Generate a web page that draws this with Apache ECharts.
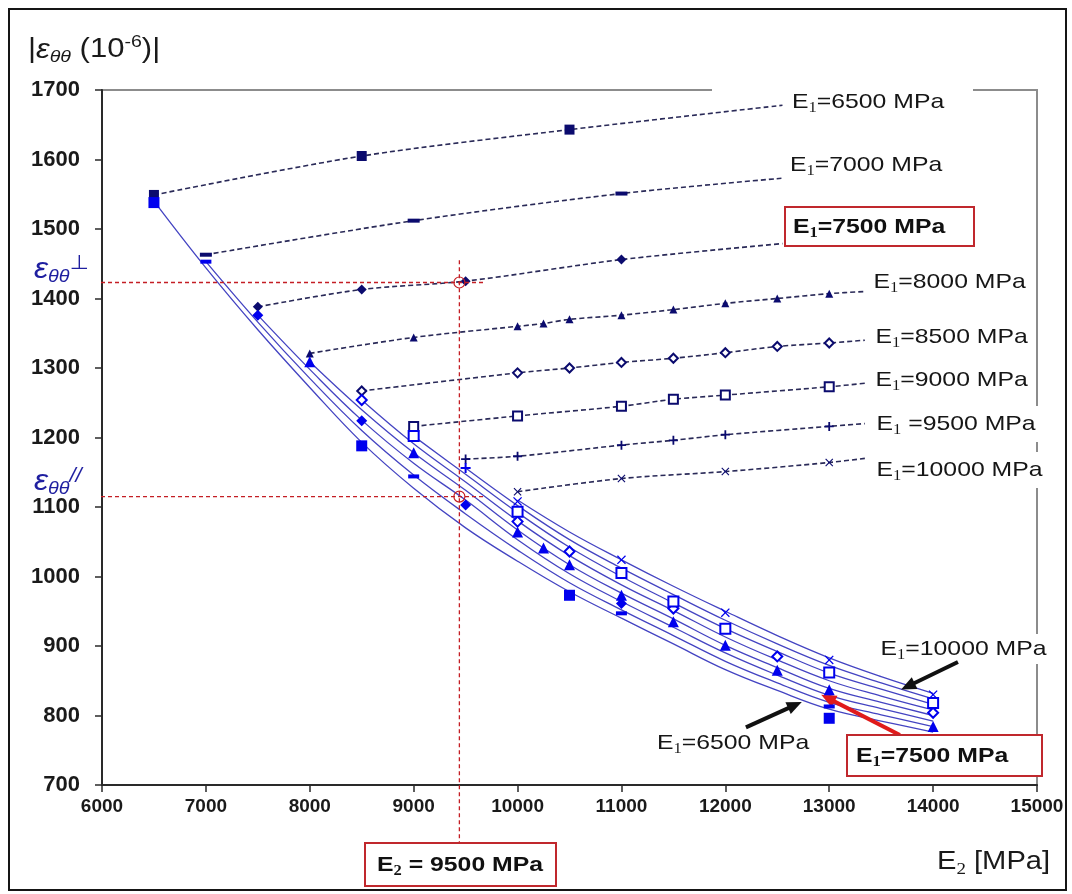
<!DOCTYPE html>
<html><head><meta charset="utf-8">
<script src="https://cdn.jsdelivr.net/npm/echarts@6/dist/echarts.min.js"></script>
<style>html,body{margin:0;padding:0;background:#fff}#c{width:1072px;height:894px}</style>
</head><body><div id="c"></div>
<script>
// ---------- DATA ----------
const X_TICKS = [6000,7000,8000,9000,10000,11000,12000,13000,14000,15000];
const Y_TICKS = [700,800,900,1000,1100,1200,1300,1400,1500,1600,1700];
const E1_LIST = [6500,7000,7500,8000,8500,9000,9500,10000];
const E2_GRID = [6500,7000,7500,8000,8500,9000,9500,10000,10500,11000,11500,12000,12500,13000,13500,14000];

// parallel strain curves |eps_thth //| (solid blue), from E2 = E1 up to 14000, step 500
const par6500  = [1540,1444,1355,1272,1193,1127,1070,1022,978,940,903,866,836,809,792,776];
const par7000  = [1453,1366,1285,1210,1146,1090,1038,991,952,915,878,847,819,801,784];
const par7500  = [1376,1298,1225,1163,1110,1053,1004,964,927,890,858,829,810,792];
const par8000  = [1309,1240,1178,1124,1067,1017,976,939,901,869,839,819,800];
const par8500  = [1254,1191,1136,1080,1030,988,951,913,880,850,828,808];
const par9000  = [1202,1147,1092,1042,1000,962,925,892,861,838,816];
const par9500  = [1156,1102,1053,1012,974,937,903,872,847,824];
const par10000 = [1110,1064,1024,986,950,915,883,856,832];

// markers on the parallel curves [E2, value]
const mk6500  = [[6500,1538],[8500,1188],[10500,973],[13000,796]];
const mk7000  = [[7000,1453],[9000,1144],[11000,947],[13000,813]];
const mk7500  = [[7500,1376],[8500,1224],[9500,1103],[11000,961]];
const mk8000  = [[8000,1309],[9000,1178],[10000,1064],[10250,1041],[10500,1017],[11000,973],[11500,935],[12000,901],[12500,865],[13000,837],[14000,784]];
const mk8500  = [[8500,1254],[10000,1079],[10500,1036],[11500,954],[12500,885],[14000,804]];
const mk9000  = [[9000,1202],[10000,1093],[11000,1005],[11500,964],[12000,925],[13000,862],[14000,818]];
const mk9500  = [[9500,1156]];
const mk10000 = [[10000,1108],[11000,1024],[12000,948],[13000,880],[14000,830]];

// perpendicular strain |eps_thth ⊥| (dashed), measured points and end of the dashed trend
const perp6500  = [[6500,1549],[8500,1605],[10500,1643]];
const perp7000  = [[7000,1463],[9000,1512],[11000,1551]];
const perp7500  = [[7500,1388],[8500,1413],[9500,1425],[11000,1456]];
const perp8000  = [[8000,1321],[9000,1344],[10000,1360],[10250,1364],[10500,1370],[11000,1376],[11500,1384],[12000,1393],[12500,1400],[13000,1407]];
const perp8500  = [[8500,1267],[10000,1293],[10500,1300],[11000,1308],[11500,1314],[12000,1322],[12500,1331],[13000,1336]];
const perp9000  = [[9000,1216],[10000,1231],[11000,1245],[11500,1255],[12000,1261],[13000,1273]];
const perp9500  = [[9500,1169],[10000,1173],[11000,1189],[11500,1196],[12000,1204],[13000,1216]];
const perp10000 = [[10000,1122],[11000,1141],[12000,1151],[13000,1164]];
const perpEnd   = [[12550,1678],[12540,1573],[12550,1479],[13343,1410],[13343,1340],[13343,1278],[13343,1220],[13343,1170]];

// red reading guides (E2 = 9500 MPa case)
const GUIDE_E2 = 9440;
const READ_PERP = 1423;
const READ_PAR = 1115;
const GUIDE_H_FROM = 5923, GUIDE_H_TO = 9670;
const GUIDE_V_TOP = 1455, GUIDE_V_BOTTOM = 617;

// annotation arrows [from, to]
const ARROW_10000 = [[14239,877],[13757,842]];
const ARROW_6500  = [[12198,783],[12670,815]];
const ARROW_7500  = [[13680,772],[12987,825]];

// ---------- STYLE ----------
const PAR = [par6500,par7000,par7500,par8000,par8500,par9000,par9500,par10000];
const MK = [mk6500,mk7000,mk7500,mk8000,mk8500,mk9000,mk9500,mk10000];
const PERP = [perp6500,perp7000,perp7500,perp8000,perp8500,perp9000,perp9500,perp10000];
const DASH = 'path://M0,0H12V3H0Z';
const PLUS = 'path://M4,0H6V4H10V6H6V10H4V6H0V4H4Z';
const CROSS = 'path://M1,0L5,4L9,0L10,1L6,5L10,9L9,10L5,6L1,10L0,9L4,5L0,1Z';
const SYMS = ['rect', DASH, 'diamond', 'triangle', 'emptyDiamond', 'emptyRect', PLUS, CROSS];
const SIZES_PAR = [11, [11,4], 11, 11, 10, 10, 10, 9];
const SIZES_PERP = [10, [12,4], 10, 8, 9, 9, 9, 8];
const CURVE_COLOR = '#4444c2';
const MK_COLOR = '#0000ee';
const PERP_LINE = '#2a2a58';
const PERP_MK = '#0b0b6e';
const RED = '#c41e24';

const series = [];
E1_LIST.forEach((e1, k) => {
  const start = E2_GRID.indexOf(e1);
  series.push({
    type: 'line', name: 'par' + e1, smooth: 0.4, showSymbol: false, z: 2,
    data: PAR[k].map((v, i) => [E2_GRID[start + i], v]),
    lineStyle: { color: CURVE_COLOR, width: 1.3 }
  });
});
E1_LIST.forEach((e1, k) => {
  const empty = SYMS[k].indexOf('empty') === 0;
  series.push({
    type: 'line', name: 'perp' + e1, smooth: 0.3, z: 3,
    symbol: SYMS[k], symbolSize: SIZES_PERP[k], showAllSymbol: true,
    data: PERP[k].map(p => ({ value: p })).concat([{ value: perpEnd[k], symbol: 'none' }]),
    lineStyle: { color: PERP_LINE, width: 1.6, type: [5, 3] },
    itemStyle: { color: PERP_MK, borderColor: PERP_MK, borderWidth: empty ? 1.3 : 0 }
  });
});
// red guide lines
[[[GUIDE_H_FROM, READ_PERP], [GUIDE_H_TO, READ_PERP]],
 [[GUIDE_H_FROM, READ_PAR], [GUIDE_H_TO, READ_PAR]],
 [[GUIDE_E2, GUIDE_V_TOP], [GUIDE_E2, GUIDE_V_BOTTOM]]].forEach((d, i) => {
  series.push({
    type: 'line', name: 'guide' + i, clip: false, symbol: 'none', z: 5, data: d,
    lineStyle: { color: RED, width: 1.3, type: [4, 3] }
  });
});
// markers on parallel curves
E1_LIST.forEach((e1, k) => {
  const empty = SYMS[k].indexOf('empty') === 0;
  series.push({
    type: 'scatter', name: 'mk' + e1, z: 6,
    symbol: SYMS[k], symbolSize: SIZES_PAR[k], data: MK[k],
    itemStyle: { color: MK_COLOR, borderColor: MK_COLOR, borderWidth: empty ? 1.3 : 0, opacity: 1 }
  });
});
series.push({
  type: 'scatter', name: 'readCircles', z: 7, symbol: 'circle', symbolSize: 11,
  data: [[GUIDE_E2, READ_PERP], [GUIDE_E2, READ_PAR]],
  itemStyle: { color: 'rgba(255,255,255,0)', borderColor: RED, borderWidth: 1.2, opacity: 1 }
});
series.push({
  type: 'scatter', name: 'arrows', data: [], z: 8,
  markLine: {
    silent: true, animation: false, symbol: ['none', 'triangle'], symbolSize: [13, 15],
    label: { show: false },
    data: [
      [{ coord: ARROW_10000[0], lineStyle: { color: '#111' } }, { coord: ARROW_10000[1] }],
      [{ coord: ARROW_6500[0], lineStyle: { color: '#111' } }, { coord: ARROW_6500[1] }],
      [{ coord: ARROW_7500[0], lineStyle: { color: '#e01b1b' } }, { coord: ARROW_7500[1] }]
    ],
    lineStyle: { width: 4, type: 'solid' }
  }
});

// ---------- TEXT ----------
const FONT = '"Liberation Sans", Arial, sans-serif';
const SERIF = '"Liberation Serif", "Times New Roman", serif';
const RICH = {
  m:  { fontFamily: FONT, fontSize: 21, fill: '#161616', lineHeight: 26 },
  s:  { fontFamily: SERIF, fontSize: 14, fill: '#161616', lineHeight: 14, verticalAlign: 'bottom' },
  mb: { fontFamily: FONT, fontSize: 21, fontWeight: 'bold', fill: '#111', lineHeight: 26 },
  sb: { fontFamily: SERIF, fontSize: 14, fontWeight: 'bold', fill: '#111', lineHeight: 14, verticalAlign: 'bottom' }
};
function label(e1txt, x, y, opts) {
  opts = opts || {};
  const b = opts.bold ? 'b' : '';
  const style = {
    text: '{m' + b + '|E}{s' + b + '|' + (opts.sub || '1') + '}{m' + b + '|' + e1txt + '}',
    rich: RICH, align: opts.align || 'left', verticalAlign: 'middle'
  };
  if (opts.bg) { style.backgroundColor = '#fff'; style.padding = opts.pad || [5, 3]; }
  return { type: 'text', x: x, y: y, scaleX: 1.18, z: opts.z || 60, style: style };
}
const graphics = [
  { type: 'rect', z: 0, shape: { x: 9, y: 9, width: 1057, height: 881 }, style: { fill: 'none', stroke: '#151515', lineWidth: 2 } },
  { type: 'rect', z: 40, shape: { x: 712, y: 85, width: 261, height: 10 }, style: { fill: '#fff' } },
  { type: 'rect', z: 55, shape: { x: 785, y: 207, width: 189, height: 39 }, style: { fill: '#fff', stroke: '#c0282d', lineWidth: 2 } },
  { type: 'rect', z: 55, shape: { x: 847, y: 735, width: 195, height: 41 }, style: { fill: '#fff', stroke: '#c0282d', lineWidth: 2 } },
  { type: 'rect', z: 55, shape: { x: 365, y: 843, width: 191, height: 43 }, style: { fill: '#fff', stroke: '#c0282d', lineWidth: 2 } },
  label('=6500 MPa', 792, 102),
  label('=7000 MPa', 790, 165),
  label('=7500 MPa', 793, 227, { bold: true }),
  label('=8000 MPa', 870, 282, { bg: true }),
  label('=8500 MPa', 872, 337, { bg: true }),
  label('=9000 MPa', 872, 380, { bg: true }),
  label(' =9500 MPa', 873, 424, { bg: true }),
  label('=10000 MPa', 873, 470, { bg: true }),
  label('=10000 MPa', 877, 649, { bg: true, pad: [2, 3], z: 4 }),
  label('=6500 MPa', 657, 743),
  label('=7500 MPa', 856, 756, { bold: true }),
  label(' = 9500 MPa', 460, 865, { bold: true, sub: '2', align: 'center' }),
  { type: 'text', x: 937, y: 862, scaleX: 1.12, z: 60, style: {
      text: '{a|E}{b|2}{a| [MPa]}', verticalAlign: 'middle', align: 'left',
      rich: { a: { fontFamily: FONT, fontSize: 26, fill: '#1a1a1a', lineHeight: 32 },
              b: { fontFamily: SERIF, fontSize: 17, fill: '#1a1a1a', lineHeight: 17, verticalAlign: 'bottom' } } } },
  { type: 'text', x: 28, y: 50, scaleX: 1.15, z: 60, style: {
      text: '{a||}{e|ε}{s|θθ}{a| (10}{p|-6}{a|)|}', verticalAlign: 'middle', align: 'left',
      rich: { a: { fontFamily: FONT, fontSize: 27, fill: '#1a1a1a', lineHeight: 32 },
              e: { fontFamily: FONT, fontSize: 27, fontStyle: 'italic', fill: '#1a1a1a', lineHeight: 32 },
              s: { fontFamily: FONT, fontSize: 17, fontStyle: 'italic', fill: '#1a1a1a', lineHeight: 17, verticalAlign: 'bottom' },
              p: { fontFamily: FONT, fontSize: 17, fill: '#1a1a1a', lineHeight: 11, verticalAlign: 'top' } } } },
  { type: 'text', x: 34, y: 270, scaleX: 1.1, z: 60, style: {
      text: '{e|ε}{s|θθ}{p|⊥}', verticalAlign: 'middle', align: 'left',
      rich: { e: { fontFamily: FONT, fontSize: 29, fontStyle: 'italic', fill: '#1f1fa0', lineHeight: 32 },
              s: { fontFamily: FONT, fontSize: 18, fontStyle: 'italic', fill: '#1f1fa0', lineHeight: 18, verticalAlign: 'bottom' },
              p: { fontFamily: 'DejaVu Sans', fontSize: 20, fill: '#1f1fa0', lineHeight: 6, verticalAlign: 'top' } } } },
  { type: 'text', x: 34, y: 482, scaleX: 1.1, z: 60, style: {
      text: '{e|ε}{s|θθ}{p|//}', verticalAlign: 'middle', align: 'left',
      rich: { e: { fontFamily: FONT, fontSize: 29, fontStyle: 'italic', fill: '#1f1fa0', lineHeight: 32 },
              s: { fontFamily: FONT, fontSize: 18, fontStyle: 'italic', fill: '#1f1fa0', lineHeight: 18, verticalAlign: 'bottom' },
              p: { fontFamily: FONT, fontSize: 20, fontStyle: 'italic', fill: '#1f1fa0', lineHeight: 4, verticalAlign: 'top' } } } }
];

const chart = echarts.init(document.getElementById('c'), null, { renderer: 'canvas' });
chart.setOption({
  animation: false,
  backgroundColor: '#fff',
  grid: { left: 102, top: 90, right: 35, bottom: 109, show: true, borderColor: '#8c8c8c', borderWidth: 2, backgroundColor: 'transparent' },
  xAxis: {
    type: 'value', min: X_TICKS[0], max: X_TICKS[X_TICKS.length - 1], interval: 1000,
    axisLine: { onZero: false, lineStyle: { color: '#2a2a2a', width: 2 } },
    axisTick: { inside: false, length: 7, lineStyle: { color: '#2a2a2a', width: 1.5 } },
    splitLine: { show: false },
    axisLabel: { margin: 12, fontFamily: FONT, fontWeight: 'bold', fontSize: 19, color: '#1a1a1a',
      formatter: v => X_TICKS.indexOf(v) >= 0 ? String(v) : '' }
  },
  yAxis: {
    type: 'value', min: Y_TICKS[0], max: Y_TICKS[Y_TICKS.length - 1], interval: 100,
    axisLine: { show: true, onZero: false, lineStyle: { color: '#2a2a2a', width: 2 } },
    axisTick: { show: true, inside: false, length: 7, lineStyle: { color: '#2a2a2a', width: 1.5 } },
    splitLine: { show: false },
    axisLabel: { margin: 22, fontFamily: FONT, fontWeight: 'bold', fontSize: 22, color: '#1a1a1a',
      formatter: v => Y_TICKS.indexOf(v) >= 0 ? String(v) : '' }
  },
  series: series,
  graphic: graphics
});
</script>
</body></html>
